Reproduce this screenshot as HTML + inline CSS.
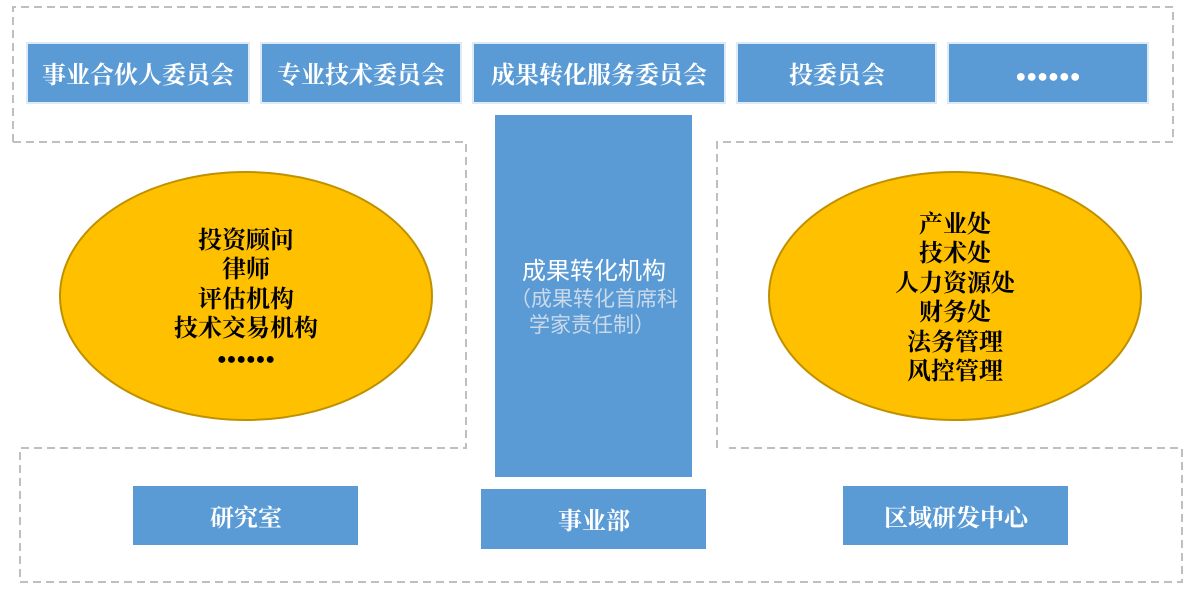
<!DOCTYPE html>
<html><head><meta charset="utf-8"><style>
html,body{margin:0;padding:0;background:#fff;}
svg{display:block}
.s{font-family:"Liberation Serif","Noto Serif CJK SC",serif;font-weight:bold;}
.n{font-family:"Liberation Sans","Noto Sans CJK SC",sans-serif;}
</style></head><body>
<svg width="1193" height="594" viewBox="0 0 1193 594" xmlns="http://www.w3.org/2000/svg">
<g fill="none" stroke="#bfbfbf" stroke-width="2" stroke-dasharray="8,5">
<path d="M13,142 V7 H1173 V142"/>
<path d="M13,142 H466 V448 H20 V582 H1182 V448 H729"/>
<path d="M1173,142 H717 V448"/>
</g>
<g fill="#5b9bd5" stroke="#deebf7" stroke-width="2">
<rect x="27" y="43" width="222" height="60"/>
<rect x="261" y="43" width="200" height="60"/>
<rect x="473" y="43" width="252" height="60"/>
<rect x="737" y="43" width="199" height="60"/>
<rect x="948" y="43" width="200" height="60"/>
</g>
<g fill="#5b9bd5">
<rect x="495" y="115" width="197" height="362"/>
<rect x="133" y="486" width="225" height="59"/>
<rect x="481" y="489" width="225" height="60"/>
<rect x="843" y="486" width="225" height="59"/>
</g>
<g class="s" fill="#fff" font-size="24" text-anchor="middle">
<text x="138" y="83">事业合伙人委员会</text>
<text x="361" y="83">专业技术委员会</text>
<text x="599" y="83">成果转化服务委员会</text>
<text x="837" y="83">投委员会</text>
<text x="1048" y="82" font-size="18">●●●●●●</text>
<text x="246" y="526">研究室</text>
<text x="594" y="529">事业部</text>
<text x="956" y="526">区域研发中心</text>
</g>
<g class="n" text-anchor="middle">
<text x="594" y="279" fill="#fff" font-size="24">成果转化机构</text>
<text x="594" y="306" fill="#c9d9ea" font-size="21">（成果转化首席科</text>
<text x="592" y="332" fill="#c9d9ea" font-size="21">学家责任制）</text>
</g>
<ellipse cx="246" cy="296" rx="186" ry="124" fill="#ffc000" stroke="#bf9000" stroke-width="2"/>
<ellipse cx="955" cy="296" rx="186" ry="124" fill="#ffc000" stroke="#bf9000" stroke-width="2"/>
<g class="s" fill="#000" font-size="24" text-anchor="middle">
<text x="246" y="248">投资顾问</text>
<text x="246" y="277">律师</text>
<text x="246" y="307">评估机构</text>
<text x="246" y="336">技术交易机构</text>
<text x="246" y="364" font-size="16">●●●●●●</text>
<text x="955" y="232">产业处</text>
<text x="955" y="261">技术处</text>
<text x="955" y="291">人力资源处</text>
<text x="955" y="320">财务处</text>
<text x="955" y="350">法务管理</text>
<text x="955" y="379">风控管理</text>
</g>
</svg>
</body></html>
